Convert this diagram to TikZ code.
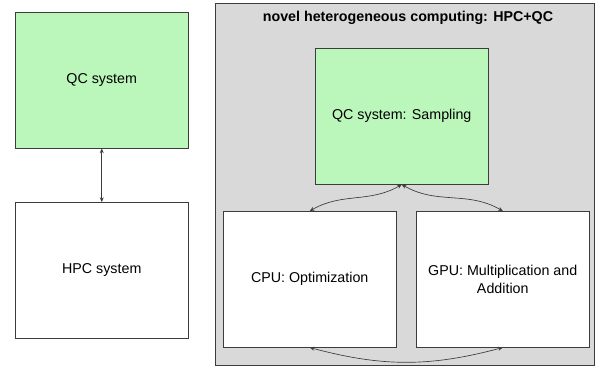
\documentclass[tikz,border=0pt]{standalone}
\usepackage{fontspec}
\setmainfont{Liberation Sans}
\usetikzlibrary{arrows.meta}
\definecolor{qcgreen}{RGB}{187,247,187}
\definecolor{framegray}{RGB}{217,217,217}
\definecolor{linegray}{RGB}{60,60,60}
\begin{document}
\begin{tikzpicture}[x=0.75pt,y=-0.75pt,
    font=\fontsize{10.7}{13}\selectfont,
    >={Stealth[length=3.5pt,width=3pt]}]

    \tikzset{
      sysbox/.style={
        draw=linegray,
        fill=white,
        anchor=north west,
        inner sep=0pt,
        align=center,
        minimum width={173*0.75pt},
        minimum height={136*0.75pt},
      },
      qcbox/.style={sysbox, fill=qcgreen},
      link/.style={<->, draw=linegray, line width=0.5pt},
    }
    \useasboundingbox (0,0) rectangle (605,367);

    % stand-alone systems
    \node[qcbox] (qcsys) at (15,12) {QC system};
    \node[sysbox] (hpcsys) at (15,202) {HPC system};
    \draw[link] (qcsys.south) -- (hpcsys.north);

    % heterogeneous frame
    \node[draw=linegray, fill=framegray, anchor=north west, inner sep=0pt,
      minimum width={379*0.75pt}, minimum height={362*0.75pt}] (hetero) at (215,3) {};
    \node[font=\fontsize{10.7}{13}\selectfont\bfseries] (title) at (408,18) {novel heterogeneous computing: HPC+QC};
    \node[qcbox] (sampling) at (315,48) {QC system: Sampling};
    \node[sysbox] (cpu) at (223,211) {CPU: Optimization};
    \node[sysbox] (gpu) at (416,211) {GPU: Multiplication and\\Addition};

    \draw[link] (cpu.north) to[out=30, in=-150] (sampling.south);
    \draw[link] (gpu.north) to[out=150, in=-30] (sampling.south);
    \draw[link] (cpu.south) to[bend right=15] (gpu.south);

\end{tikzpicture}
\end{document}
